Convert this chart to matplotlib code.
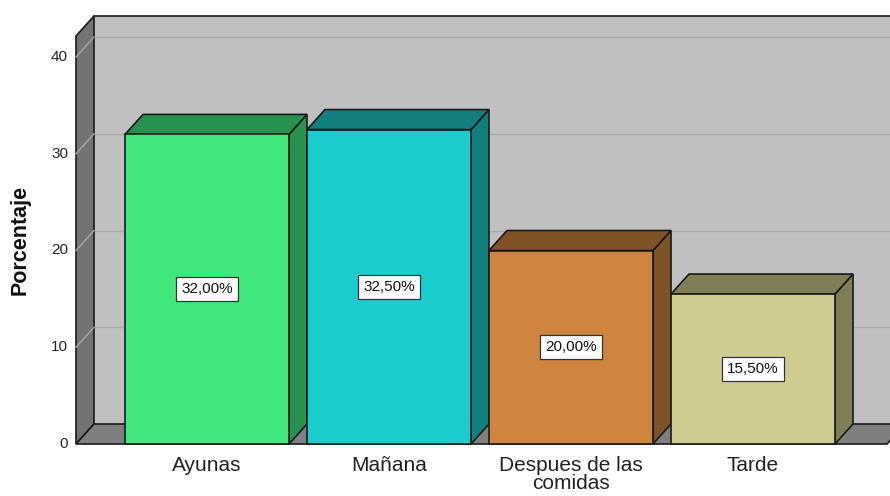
import matplotlib
matplotlib.use("Agg")
import matplotlib.pyplot as plt
from matplotlib.patches import Polygon

categories = ["Ayunas", "Mañana", "Despues de las\ncomidas", "Tarde"]
values = [32.0, 32.5, 20.0, 15.5]
value_labels = ["32,00%", "32,50%", "20,00%", "15,50%"]
front_colors = ["#41e87e", "#1ccdcd", "#cd8540", "#d0cb90"]
shade_colors = ["#27924f", "#107f7e", "#7f5228", "#807e56"]
yticks = [0, 10, 20, 30, 40]

plt.rcParams["font.family"] = ["Liberation Sans", "DejaVu Sans"]

# layout (data units: one category = 1 on x, percent on y)
px_x = 182.0
px_y = 9.675
w = 82 / px_x
dx = 18 / px_x
dy = 20 / px_y
x_left = (76 - 207) / px_x
x_right = (887 - 207) / px_x
y_top = (444 - 36) / px_y
edge = "#1a1a1a"

fig = plt.figure(figsize=(8.9, 4.96), dpi=100)
ax = fig.add_axes([0, 0, 1, 1])
ax.set_xlim(-207 / px_x, 683 / px_x)
ax.set_ylim(-52 / px_y, 444 / px_y)
ax.axis("off")

# back wall
ax.add_patch(Polygon([(x_left + dx, dy), (x_right + dx, dy), (x_right + dx, y_top + dy),
                      (x_left + dx, y_top + dy)], closed=True, fc="#c0c0c0", ec="none", zorder=1))
for t in yticks[1:]:
    ax.plot([x_left + dx, x_right + dx], [t + dy, t + dy], color="#aaaaaa", lw=1, zorder=2)
ax.plot([x_left + dx, x_right + dx], [y_top + dy, y_top + dy], color=edge, lw=1.2, zorder=2)

# left wall
ax.add_patch(Polygon([(x_left, 0), (x_left + dx, dy), (x_left + dx, y_top + dy), (x_left, y_top)],
                     closed=True, fc="#737373", ec=edge, lw=1.2, zorder=3))
for t in yticks[1:]:
    ax.plot([x_left, x_left + dx], [t, t + dy], color="#a8a8a8", lw=1, zorder=4)

# floor
ax.add_patch(Polygon([(x_left, 0), (x_right, 0), (x_right + dx, dy), (x_left + dx, dy)],
                     closed=True, fc="#7f7f7f", ec=edge, lw=1.2, zorder=3))

for t in yticks:
    ax.text(x_left - 8 / px_x, t, str(t), ha="right", va="center", fontsize=11, color="#222222")

# bars
for i, (v, fc, sc) in enumerate(zip(values, front_colors, shade_colors)):
    z = 5 + i
    ax.add_patch(Polygon([(i + w, 0), (i + w + dx, dy), (i + w + dx, v + dy), (i + w, v)],
                         closed=True, fc=sc, ec=edge, lw=1.2, zorder=z))
    ax.add_patch(Polygon([(i - w, v), (i + w, v), (i + w + dx, v + dy), (i - w + dx, v + dy)],
                         closed=True, fc=sc, ec=edge, lw=1.2, zorder=z))
    ax.add_patch(Polygon([(i - w, 0), (i + w, 0), (i + w, v), (i - w, v)],
                         closed=True, fc=fc, ec=edge, lw=1.2, zorder=z))
    ax.text(i, v / 2, value_labels[i], ha="center", va="center", fontsize=11, color="#111111",
            zorder=20, bbox=dict(boxstyle="square,pad=0.32", fc="white", ec="#333333", lw=0.9))
    ax.text(i, -12 / px_y, categories[i], ha="center", va="top", fontsize=15,
            linespacing=0.92, color="#222222")

ax.text(-187 / px_x, 21.1, "Porcentaje", rotation=90, ha="center", va="center",
        fontsize=15.5, fontweight="bold", color="#111111")

fig.savefig("out.png", dpi=100)
